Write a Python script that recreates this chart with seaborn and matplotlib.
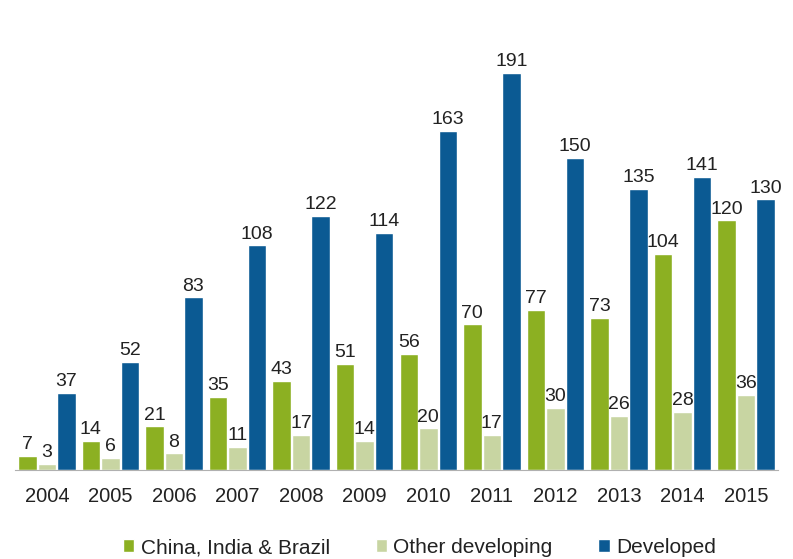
import matplotlib.pyplot as plt
import numpy as np
import pandas as pd
import seaborn as sns

years = ['2004', '2005', '2006', '2007', '2008', '2009',
         '2010', '2011', '2012', '2013', '2014', '2015']
series = ['China, India & Brazil', 'Other developing', 'Developed']
china_india_brazil = [7, 14, 21, 35, 43, 51, 56, 70, 77, 73, 104, 120]
other_developing = [3, 6, 8, 11, 17, 14, 20, 17, 30, 26, 28, 36]
developed = [37, 52, 83, 108, 122, 114, 163, 191, 150, 135, 141, 130]
colors = ['#8cb022', '#c8d5a2', '#0b5a93']

df = pd.DataFrame({
    'year': years * 3,
    'series': np.repeat(series, len(years)),
    'value': china_india_brazil + other_developing + developed,
})

sns.set_style('white')
plt.rcParams['font.family'] = ['Liberation Sans', 'DejaVu Sans']

fig = plt.figure(figsize=(7.93, 5.59), dpi=100)
ax = fig.add_axes([0.019, 0.159, 0.962, 0.823])

sns.barplot(data=df, x='year', y='value', hue='series', hue_order=series,
            palette=colors, width=0.92, gap=0.05, saturation=1, ax=ax,
            legend=True)

for cont in ax.containers:
    ax.bar_label(cont, fontsize=14, padding=2, color='#222222')

ax.set_ylim(0, 221)
ax.set_xlim(-0.5, len(years) - 0.5)
ax.set_xlabel('')
ax.set_ylabel('')
ax.set_yticks([])
for s in ['top', 'left', 'right']:
    ax.spines[s].set_visible(False)
ax.spines['bottom'].set_color('#b0b0b0')
ax.tick_params(axis='x', which='major', length=0, labelsize=14.5,
               labelcolor='#222222', pad=12)
ax.set_xticks(np.arange(-0.5, len(years), 1), minor=True)
ax.tick_params(axis='x', which='minor', length=5, color='#b0b0b0',
               direction='out')

ax.legend(loc='upper center', bbox_to_anchor=(0.53, -0.107), ncol=3,
          frameon=False, fontsize=15, handlelength=0.55, handleheight=0.55,
          handletextpad=0.3, columnspacing=2.2, labelcolor='#222222')

fig.savefig('out.png', dpi=100)
